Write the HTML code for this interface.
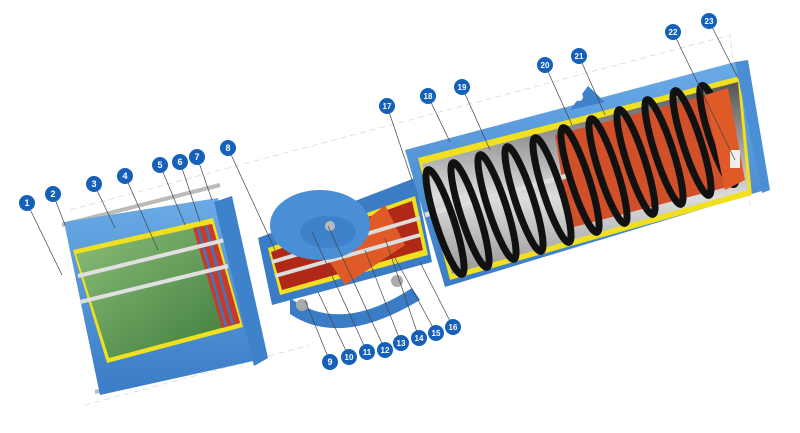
<!DOCTYPE html>
<html><head><style>html,body{margin:0;padding:0;background:#fff}svg{display:block}</style></head>
<body>
<svg width="800" height="433" viewBox="0 0 800 433" xmlns="http://www.w3.org/2000/svg" font-family="Liberation Sans, sans-serif">
<defs>
<linearGradient id="bl" x1="0" y1="0" x2="0" y2="1"><stop offset="0" stop-color="#6aaae6"/><stop offset="1" stop-color="#3a7cc6"/></linearGradient>
<linearGradient id="gr" x1="0" y1="0" x2="1" y2="1"><stop offset="0" stop-color="#8cbf7a"/><stop offset="1" stop-color="#3d7a3a"/></linearGradient>
<linearGradient id="gy" x1="0" y1="0" x2="0" y2="1"><stop offset="0" stop-color="#555"/><stop offset="0.6" stop-color="#ddd"/><stop offset="1" stop-color="#999"/></linearGradient>
</defs>
<g stroke="#ccc" stroke-width="0.6" stroke-dasharray="6 4" fill="none">
<path d="M70 210 L730 35 L750 205"/><path d="M85 405 L310 345"/>
</g>
<g stroke="#bbb" stroke-width="4"><line x1="62" y1="225" x2="220" y2="185"/><line x1="95" y1="392" x2="255" y2="358"/></g>
<!-- left cylinder -->
<polygon points="64,222 218,198 258,360 100,395" fill="url(#bl)"/>
<polygon points="73,250 213,218 243,327 107,363" fill="#f0e020"/>
<polygon points="76,254 212,224 240,323 109,358" fill="url(#gr)"/>
<polygon points="193,228 212,224 240,323 222,328" fill="#c83a2a"/>
<line x1="198" y1="228" x2="226" y2="326" stroke="#3a7ac0" stroke-width="2.5"/>
<line x1="206" y1="226" x2="233" y2="325" stroke="#3a7ac0" stroke-width="2.5"/>
<g stroke="#e0e0e0" stroke-width="4"><line x1="78" y1="276" x2="225" y2="240"/><line x1="80" y1="302" x2="228" y2="266"/></g>
<polygon points="214,202 232,196 268,358 254,366" fill="#3f82cc"/>
<!-- neck & housing -->
<polygon points="258,238 415,178 432,262 272,305" fill="#3a7cc6"/>
<polygon points="268,248 415,196 428,255 280,295" fill="#f0e020"/>
<polygon points="271,252 412,201 423,250 282,290" fill="#b02818"/>
<polygon points="325,255 385,205 405,245 345,285" fill="#e05a28"/>
<g stroke="#ddd" stroke-width="4"><line x1="272" y1="262" x2="420" y2="218"/><line x1="275" y1="276" x2="420" y2="235"/></g>
<ellipse cx="320" cy="225" rx="50" ry="35" fill="#4a8fd6"/>
<ellipse cx="328" cy="232" rx="28" ry="16" fill="#3f82cc"/>
<circle cx="330" cy="226" r="5" fill="#bbb"/>
<path d="M290 298 Q340 335 412 288 L420 300 Q340 348 290 314Z" fill="#3a7cc6"/>
<circle cx="302" cy="305" r="6" fill="#aaa"/><circle cx="397" cy="281" r="6" fill="#aaa"/>
<!-- right cylinder -->
<polygon points="405,150 735,62 765,190 445,287" fill="url(#bl)"/>
<polygon points="570,110 588,86 605,102" fill="#3f82cc"/>
<circle cx="579" cy="97" r="4" fill="#fff"/>
<polygon points="418,158 740,76 752,195 450,280" fill="#f0e020"/>
<polygon points="422,164 738,82 748,190 452,274" fill="url(#gy)"/>
<polygon points="555,135 720,92 735,185 570,228" fill="#d0502a"/>
<g stroke="#ddd" stroke-width="5"><line x1="425" y1="215" x2="570" y2="175"/></g>
<g fill="none" stroke="#111" stroke-width="7">
<ellipse cx="445" cy="222" rx="9" ry="55" transform="rotate(-18 445 222)"/>
<ellipse cx="470" cy="215" rx="9" ry="55" transform="rotate(-18 470 215)"/>
<ellipse cx="497" cy="207" rx="9" ry="55" transform="rotate(-18 497 207)"/>
<ellipse cx="524" cy="199" rx="9" ry="55" transform="rotate(-18 524 199)"/>
<ellipse cx="552" cy="190" rx="9" ry="55" transform="rotate(-18 552 190)"/>
<ellipse cx="580" cy="180" rx="9" ry="55" transform="rotate(-18 580 180)"/>
<ellipse cx="608" cy="171" rx="9" ry="55" transform="rotate(-18 608 171)"/>
<ellipse cx="636" cy="162" rx="9" ry="55" transform="rotate(-18 636 162)"/>
<ellipse cx="664" cy="152" rx="9" ry="55" transform="rotate(-18 664 152)"/>
<ellipse cx="692" cy="143" rx="9" ry="55" transform="rotate(-18 692 143)"/>
<ellipse cx="718" cy="135" rx="9" ry="52" transform="rotate(-18 718 135)"/>
</g>
<polygon points="705,95 728,88 745,180 725,190" fill="#e05a28"/>
<rect x="730" y="150" width="10" height="18" fill="#eee"/>
<polygon points="735,62 748,60 770,190 762,193" fill="#4a8fd6"/>
<g stroke="#444" stroke-width="0.7">
<line x1="27" y1="203" x2="62" y2="275"/><line x1="53" y1="194" x2="65" y2="225"/>
<line x1="94" y1="184" x2="115" y2="228"/><line x1="125" y1="176" x2="158" y2="250"/>
<line x1="160" y1="165" x2="185" y2="225"/><line x1="180" y1="162" x2="200" y2="222"/>
<line x1="197" y1="157" x2="212" y2="200"/><line x1="228" y1="148" x2="275" y2="250"/>
<line x1="330" y1="362" x2="305" y2="300"/><line x1="349" y1="357" x2="318" y2="292"/>
<line x1="367" y1="352" x2="312" y2="232"/><line x1="385" y1="350" x2="328" y2="226"/>
<line x1="401" y1="343" x2="365" y2="250"/><line x1="419" y1="338" x2="385" y2="238"/>
<line x1="436" y1="333" x2="395" y2="258"/><line x1="453" y1="327" x2="420" y2="262"/>
<line x1="387" y1="106" x2="412" y2="180"/><line x1="428" y1="96" x2="450" y2="142"/>
<line x1="462" y1="87" x2="490" y2="150"/><line x1="545" y1="65" x2="572" y2="125"/>
<line x1="579" y1="56" x2="605" y2="115"/><line x1="673" y1="32" x2="735" y2="160"/>
<line x1="709" y1="21" x2="738" y2="78"/>
</g>
<g fill="#1560b8"><circle cx="27" cy="203" r="8"/><circle cx="53" cy="194" r="8"/><circle cx="94" cy="184" r="8"/><circle cx="125" cy="176" r="8"/><circle cx="160" cy="165" r="8"/><circle cx="180" cy="162" r="8"/><circle cx="197" cy="157" r="8"/><circle cx="228" cy="148" r="8"/><circle cx="330" cy="362" r="8"/><circle cx="349" cy="357" r="8"/><circle cx="367" cy="352" r="8"/><circle cx="385" cy="350" r="8"/><circle cx="401" cy="343" r="8"/><circle cx="419" cy="338" r="8"/><circle cx="436" cy="333" r="8"/><circle cx="453" cy="327" r="8"/><circle cx="387" cy="106" r="8"/><circle cx="428" cy="96" r="8"/><circle cx="462" cy="87" r="8"/><circle cx="545" cy="65" r="8"/><circle cx="579" cy="56" r="8"/><circle cx="673" cy="32" r="8"/><circle cx="709" cy="21" r="8"/></g>
<g fill="#fff" font-size="9" font-weight="bold" text-anchor="middle">
<text x="27" y="206">1</text><text x="53" y="197">2</text><text x="94" y="187">3</text><text x="125" y="179">4</text><text x="160" y="168">5</text><text x="180" y="165">6</text><text x="197" y="160">7</text><text x="228" y="151">8</text><text x="330" y="365">9</text><text x="349" y="360" font-size="8">10</text><text x="367" y="355" font-size="8">11</text><text x="385" y="353" font-size="8">12</text><text x="401" y="346" font-size="8">13</text><text x="419" y="341" font-size="8">14</text><text x="436" y="336" font-size="8">15</text><text x="453" y="330" font-size="8">16</text><text x="387" y="109" font-size="8">17</text><text x="428" y="99" font-size="8">18</text><text x="462" y="90" font-size="8">19</text><text x="545" y="68" font-size="8">20</text><text x="579" y="59" font-size="8">21</text><text x="673" y="35" font-size="8">22</text><text x="709" y="24" font-size="8">23</text>
</g>
</svg>
</body></html>
